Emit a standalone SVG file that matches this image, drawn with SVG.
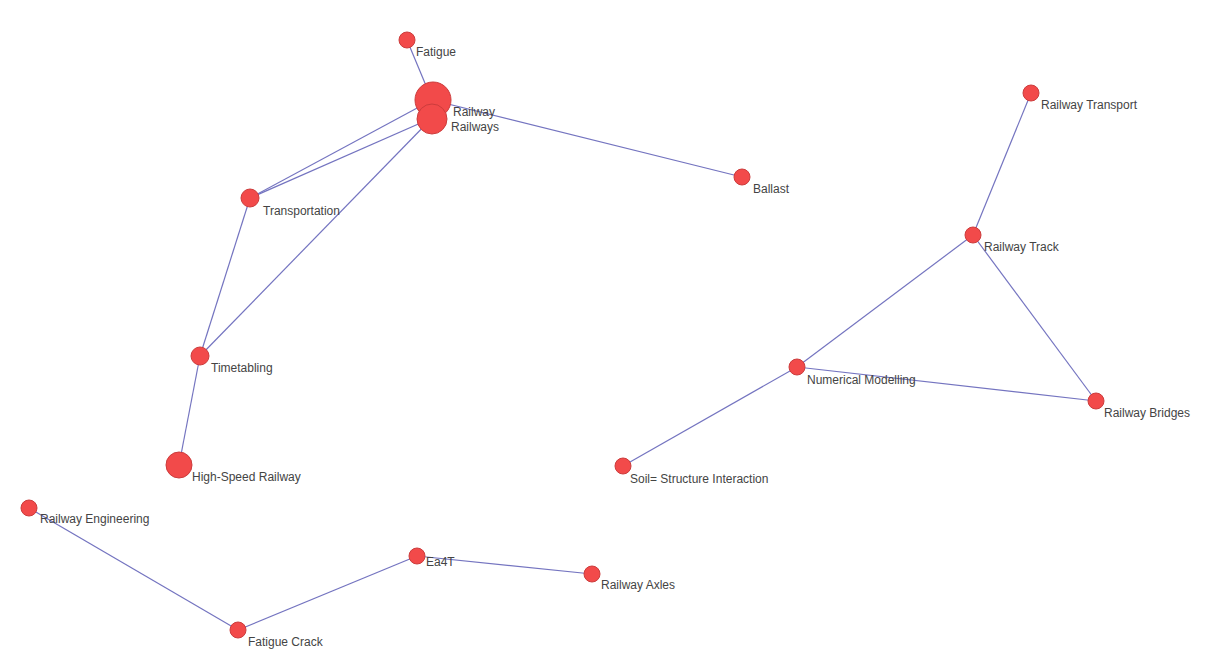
<svg xmlns="http://www.w3.org/2000/svg" width="1212" height="663" viewBox="0 0 1212 663">
<style>
.e{stroke:#7474c0;stroke-width:1.2;fill:none}
.n{fill:#f24a4a;stroke:#cc3c3c;stroke-width:1}
.t{font-family:"Liberation Sans",Arial,sans-serif;font-size:12px;fill:#444444}
</style>
<rect width="1212" height="663" fill="#ffffff"/>
<g id="edges">
<line class="e" x1="407" y1="40" x2="432" y2="100"/>
<line class="e" x1="432" y1="100" x2="742" y2="177"/>
<line class="e" x1="432" y1="100" x2="250" y2="198"/>
<line class="e" x1="432" y1="118" x2="250" y2="198"/>
<line class="e" x1="432" y1="118" x2="200" y2="356"/>
<line class="e" x1="250" y1="198" x2="200" y2="356"/>
<line class="e" x1="200" y1="356" x2="179" y2="465"/>
<line class="e" x1="1031" y1="93" x2="973" y2="235"/>
<line class="e" x1="973" y1="235" x2="797" y2="367"/>
<line class="e" x1="973" y1="235" x2="1096" y2="401"/>
<line class="e" x1="797" y1="367" x2="1096" y2="401"/>
<line class="e" x1="797" y1="367" x2="623" y2="466"/>
<line class="e" x1="29" y1="508" x2="238" y2="630"/>
<line class="e" x1="238" y1="630" x2="417" y2="556"/>
<line class="e" x1="417" y1="556" x2="592" y2="574"/>
</g>
<g id="node-fatigue"><circle class="n" cx="407" cy="40" r="8"/><text class="t" x="416" y="56">Fatigue</text></g>
<g id="node-railway"><circle class="n" cx="433" cy="100" r="18"/><text class="t" x="453" y="116">Railway</text></g>
<g id="node-railways"><circle class="n" cx="432" cy="119" r="15"/><text class="t" x="451" y="131">Railways</text></g>
<g id="node-ballast"><circle class="n" cx="742" cy="177" r="8"/><text class="t" x="753" y="193">Ballast</text></g>
<g id="node-transportation"><circle class="n" cx="250" cy="198" r="9"/><text class="t" x="263" y="215">Transportation</text></g>
<g id="node-timetabling"><circle class="n" cx="200" cy="356" r="9"/><text class="t" x="211" y="372">Timetabling</text></g>
<g id="node-highspeed"><circle class="n" cx="179" cy="465" r="13"/><text class="t" x="192" y="481">High-Speed Railway</text></g>
<g id="node-railway-transport"><circle class="n" cx="1031" cy="93" r="8"/><text class="t" x="1041" y="109">Railway Transport</text></g>
<g id="node-railway-track"><circle class="n" cx="973" cy="235" r="8"/><text class="t" x="984" y="251">Railway Track</text></g>
<g id="node-numerical"><circle class="n" cx="797" cy="367" r="8"/><text class="t" x="807" y="384">Numerical Modelling</text></g>
<g id="node-bridges"><circle class="n" cx="1096" cy="401" r="8"/><text class="t" x="1104" y="417">Railway Bridges</text></g>
<g id="node-soil"><circle class="n" cx="623" cy="466" r="8"/><text class="t" x="630" y="483">Soil= Structure Interaction</text></g>
<g id="node-railway-engineering"><circle class="n" cx="29" cy="508" r="8"/><text class="t" x="40" y="523">Railway Engineering</text></g>
<g id="node-fatigue-crack"><circle class="n" cx="238" cy="630" r="8"/><text class="t" x="248" y="646">Fatigue Crack</text></g>
<g id="node-ea4t"><circle class="n" cx="417" cy="556" r="8"/><text class="t" x="426" y="566">Ea4T</text></g>
<g id="node-axles"><circle class="n" cx="592" cy="574" r="8"/><text class="t" x="601" y="589">Railway Axles</text></g>
</svg>
